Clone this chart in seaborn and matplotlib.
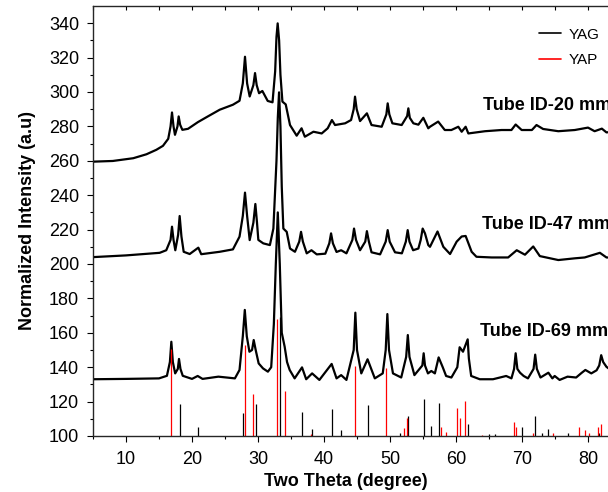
import matplotlib
matplotlib.use("Agg")
import matplotlib.pyplot as plt
import seaborn as sns
import pandas as pd
from matplotlib.lines import Line2D

# --- data ---
# Tube ID-20 mm (top pattern)
tube20_x = [5, 8, 11.1, 13.1, 14.6, 15.6, 16.4, 16.75, 16.97, 17.2, 17.42, 17.8,
            17.98, 18.2, 18.54, 19.4, 20.9, 22.4, 24.2, 26.2, 27.2, 27.7, 28.03,
            28.35, 28.74, 29.3, 29.55, 29.8, 30.16, 30.66, 31.47, 32.2, 32.6, 32.8,
            32.98, 33.2, 33.4, 33.7, 34.2, 34.85, 35.86, 36.6, 37.1, 38.4, 39.65,
            40.56, 41.2, 41.67, 43.2, 44.1, 44.5, 44.7, 44.95, 45.46, 46.5, 47.2,
            48.74, 49.45, 49.65, 49.9, 50.36, 51.77, 52.6, 52.78, 53.0, 53.54, 54.3,
            55.05, 55.8, 56.06, 57.3, 58.3, 59.3, 60.35, 60.86, 61.46, 61.87, 64.4,
            66.9, 68.4, 69.04, 69.95, 71.5, 72.2, 73.2, 75.5, 78, 80.0, 81, 82.1,
            82.8, 85]
tube20_y = [259.5, 259.9, 261.5, 263.8, 266.4, 268.7, 272.8, 280.0, 288.1, 280.0,
            275.1, 280.0, 285.8, 281.0, 278.0, 278.6, 282.5, 285.8, 289.7, 292.6,
            294.9, 305.0, 320.5, 305.0, 297.4, 304.0, 311.0, 304.0, 299.3, 300.6,
            294.8, 294.0, 312.0, 332.0, 339.9, 330.0, 310.0, 294.4, 292.8, 280.8,
            274.6, 278.9, 274.0, 276.9, 275.9, 278.9, 283.7, 280.8, 281.8, 283.7,
            290.0, 297.3, 290.0, 283.1, 287.6, 280.8, 279.8, 287.0, 293.4, 287.0,
            281.8, 280.8, 286.0, 290.5, 285.0, 281.8, 281.0, 285.0, 278.9, 279.8,
            282.8, 277.9, 277.9, 279.8, 276.9, 279.8, 275.9, 277.2, 277.9, 277.9,
            281.1, 277.9, 277.9, 280.8, 278.5, 277.2, 277.9, 279.3, 277.2, 278.7,
            276.5, 277.5]

# Tube ID-47 mm (middle pattern)
tube47_x = [5, 10, 15.1, 16.1, 16.75, 16.97, 17.2, 17.47, 17.9, 18.13, 18.4, 18.74,
            19.65, 20.96, 21.4, 24.2, 26.2, 27.2, 27.7, 28.03, 28.35, 28.74, 29.3,
            29.6, 29.85, 30.05, 30.8, 31.8, 32.33, 32.8, 33.0, 33.19, 33.4, 33.6,
            33.84, 34.35, 34.85, 35.6, 36.25, 36.52, 36.8, 37.38, 38.1, 38.9, 40.2,
            40.8, 41.07, 41.35, 41.9, 42.6, 43.4, 44.3, 44.55, 44.85, 45.46, 46.25,
            46.5, 46.8, 47.2, 48.5, 49.35, 49.65, 49.95, 50.76, 51.8, 52.4, 52.68,
            52.95, 53.5, 54.3, 54.65, 54.95, 55.3, 55.8, 56.06, 57.2, 58.08, 59.1,
            60.1, 60.86, 61.46, 62.37, 63.1, 65.4, 67.9, 69.2, 70.45, 71.7, 72.7,
            75.5, 78, 79.5, 81.8, 82.8, 85]
tube47_y = [204.0, 205.0, 206.5, 208.0, 214.0, 221.7, 214.0, 208.0, 217.0, 227.9,
            216.0, 207.1, 205.8, 209.5, 205.7, 207.1, 208.5, 215.9, 228.0, 241.5,
            228.0, 213.9, 224.0, 234.9, 224.0, 214.0, 212.0, 211.0, 220.6, 260.0,
            285.0, 299.8, 280.0, 245.0, 220.6, 218.7, 209.0, 207.1, 213.0, 218.7,
            213.0, 206.2, 208.0, 205.6, 206.0, 212.0, 217.8, 212.0, 207.0, 208.0,
            206.2, 214.0, 220.6, 214.0, 208.0, 213.0, 219.1, 213.0, 206.8, 205.6,
            213.0, 219.7, 213.0, 206.8, 206.2, 213.0, 219.7, 213.0, 208.0, 209.0,
            214.0, 220.6, 217.8, 211.0, 210.0, 218.9, 210.0, 205.8, 213.0, 216.0,
            216.3, 207.1, 204.2, 203.8, 203.8, 208.0, 205.4, 210.2, 204.6, 202.3,
            203.3, 203.8, 206.5, 203.8, 203.5]

# Tube ID-69 mm (bottom pattern)
tube69_x = [5, 10, 15, 16.2, 16.65, 16.87, 17.1, 17.45, 17.85, 18.03, 18.25, 18.6,
            20.0, 20.86, 21.6, 24.0, 26.5, 27.2, 27.7, 28.0, 28.3, 28.7, 29.1, 29.35,
            29.65, 30.1, 30.76, 31.5, 32.0, 32.4, 32.7, 33.0, 33.3, 33.6, 34.04,
            34.4, 34.8, 35.55, 36.67, 37.3, 38.2, 39.3, 41.16, 41.9, 42.6, 43.4,
            44.5, 44.75, 45.0, 45.65, 46.6, 47.7, 48.9, 49.35, 49.6, 49.85, 50.45,
            51.7, 52.45, 52.7, 52.95, 53.7, 54.9, 55.1, 55.3, 55.75, 56.26, 56.8,
            57.37, 58.0, 58.5, 59.3, 60.2, 60.55, 61.06, 61.77, 61.95, 62.3, 63.6,
            65.6, 67.6, 68.4, 68.8, 69.04, 69.3, 69.7, 70.25, 70.9, 71.75, 72.0,
            72.25, 72.8, 74.0, 74.6, 74.95, 75.7, 76.9, 78.2, 79.0, 79.6, 80.5, 81.3,
            81.7, 82.0, 82.3, 82.8, 85]
tube69_y = [133.0, 133.2, 133.5, 135.0, 143.0, 154.8, 143.0, 136.4, 139.0, 144.8,
            139.0, 135.0, 133.2, 134.9, 133.2, 134.5, 133.5, 138.4, 158.0, 173.3,
            158.0, 149.0, 150.0, 155.8, 150.0, 142.2, 139.3, 137.4, 140.0, 165.0,
            200.0, 230.0, 200.0, 160.0, 151.9, 143.0, 138.4, 133.5, 139.9, 133.0,
            136.4, 132.6, 141.9, 133.5, 135.4, 132.6, 150.0, 171.7, 150.0, 136.4,
            144.6, 133.5, 136.4, 150.0, 170.9, 150.0, 136.4, 134.0, 146.0, 158.7,
            146.0, 135.4, 141.0, 148.1, 141.0, 136.4, 137.8, 136.4, 145.7, 139.9,
            134.9, 134.0, 140.0, 151.6, 149.0, 156.2, 145.0, 134.9, 133.0, 133.0,
            134.9, 133.5, 139.0, 148.1, 139.0, 136.8, 134.9, 133.5, 139.0, 147.3,
            139.0, 134.0, 136.8, 133.5, 134.9, 132.6, 134.5, 134.0, 136.6, 138.4,
            136.4, 138.2, 141.0, 147.0, 143.0, 140.2, 134.0]

# reference sticks (drawn up from the 100 baseline)
yag_pos = [18.13, 20.9, 27.78, 29.75, 33.36, 36.67, 38.18, 41.16, 42.58, 46.6,
           51.57, 52.73, 55.1, 56.26, 57.37, 61.82, 64.95, 65.9, 70.0, 72.0, 73.03,
           74.0, 76.9, 81.6]
yag_int = [118.6, 105.4, 113.2, 118.6, 169.0, 114.0, 104.3, 115.9, 103.5, 118.0,
           101.5, 111.8, 121.5, 106.0, 119.3, 106.8, 101.0, 101.0, 105.0, 111.8,
           101.5, 104.0, 101.5, 101.5]
yap_pos = [16.8, 28.0, 29.24, 32.83, 34.09, 38.03, 44.7, 49.44, 52.07, 52.58,
           57.78, 58.48, 60.1, 60.66, 61.41, 63.9, 68.74, 69.04, 71.67, 74.7,
           78.6, 79.5, 80.15, 81.5, 81.9]
yap_int = [150.4, 152.9, 124.4, 167.8, 126.2, 101.0, 140.7, 139.7, 104.8, 110.6,
           105.4, 102.3, 116.1, 110.3, 120.3, 100.5, 107.9, 105.4, 101.5, 101.5,
           105.0, 103.3, 101.5, 105.4, 106.8]

tube_labels = ["Tube ID-20 mm", "Tube ID-47 mm", "Tube ID-69 mm"]
label_x = [64.1, 63.9, 63.6]
label_y = [291.9, 222.7, 160.6]

sns.set_style("ticks")
plt.rcParams["font.family"] = ["Liberation Sans", "DejaVu Sans"]
plt.rcParams.update({"text.color": "black", "axes.labelcolor": "black",
                     "xtick.color": "black", "ytick.color": "black"})

fig = plt.figure(figsize=(6.08, 4.92), dpi=100)
# axes runs past the right edge, like the cropped original
ax = fig.add_axes([93 / 608, 56 / 492, 528 / 608, 430 / 492])

curves = pd.concat([
    pd.DataFrame({"theta": tube20_x, "intensity": tube20_y, "sample": "20"}),
    pd.DataFrame({"theta": tube47_x, "intensity": tube47_y, "sample": "47"}),
    pd.DataFrame({"theta": tube69_x, "intensity": tube69_y, "sample": "69"}),
])
for name, grp in curves.groupby("sample"):
    sns.lineplot(data=grp, x="theta", y="intensity", ax=ax, color="black",
                 lw=1.6, sort=False, estimator=None, legend=False)

ax.vlines(yag_pos, 100, yag_int, color="black", lw=0.9)
ax.vlines(yap_pos, 100, yap_int, color="red", lw=0.9)

for t, x, y in zip(tube_labels, label_x, label_y):
    ax.text(x, y, t, fontsize=13, fontweight="bold", va="center", ha="left")

ax.set_xlim(5, 85)
ax.set_ylim(100, 350)
ax.set_xticks(range(10, 90, 10))
ax.set_xticks(range(5, 90, 5), minor=True)
ax.set_yticks(range(100, 350, 20))
ax.set_yticks(range(110, 350, 20), minor=True)

ax.tick_params(axis="both", which="major", labelsize=13, length=4, width=0.8,
               direction="out")
ax.tick_params(axis="both", which="minor", length=2.5, width=0.8, direction="out")
ax.tick_params(axis="x", which="major", pad=7)
ax.tick_params(axis="y", which="major", pad=6)
for s in ax.spines.values():
    s.set_linewidth(0.9)
    s.set_color("black")

# top ticks point inwards
top = ax.twiny()
top.set_xlim(ax.get_xlim())
top.set_xticks(range(5, 90, 5))
top.tick_params(axis="x", direction="in", length=3, width=0.8, labeltop=False)
top.set_xticklabels([])

ax.set_xlabel("Two Theta (degree)", fontsize=13, fontweight="bold")
ax.set_ylabel("Normalized Intensity (a.u)", fontsize=13, fontweight="bold", labelpad=9)
ax.xaxis.set_label_coords((346 - 93) / 528, -0.085)

handles = [Line2D([], [], color="black", lw=1.2), Line2D([], [], color="red", lw=1.2)]
ax.legend(handles, ["YAG", "YAP"], loc="upper left", frameon=False, fontsize=11,
          handlelength=1.45, handletextpad=0.5, labelspacing=0.75,
          bbox_to_anchor=(525 / 608, 1 - 14 / 492), bbox_transform=fig.transFigure)

fig.savefig("out.png", dpi=100)
